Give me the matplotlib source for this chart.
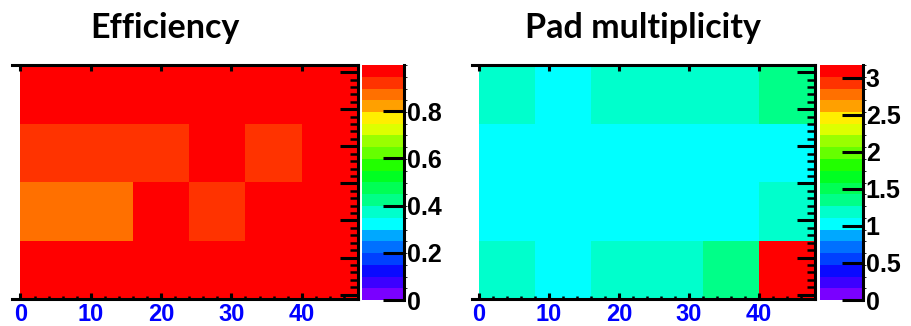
import matplotlib
matplotlib.use("Agg")
import matplotlib.pyplot as plt
import numpy as np
from matplotlib.colors import ListedColormap, BoundaryNorm

# bin edges (x: pad column, y: pad row)
x_edges = [0, 8, 16, 24, 32, 40, 48]
y_edges = [0, 8, 16, 24, 32]

# rows listed bottom -> top
efficiency = [
    [0.97, 0.97, 0.97, 0.97, 0.97, 0.97],
    [0.87, 0.87, 0.96, 0.92, 0.97, 0.97],
    [0.92, 0.92, 0.92, 0.96, 0.92, 0.97],
    [0.97, 0.98, 0.96, 0.97, 0.97, 0.995],
]
multiplicity = [
    [1.20, 1.03, 1.20, 1.20, 1.35, 3.17],
    [1.03, 1.03, 1.03, 1.03, 1.03, 1.20],
    [1.03, 1.03, 1.03, 1.03, 1.03, 1.03],
    [1.20, 1.03, 1.20, 1.20, 1.20, 1.35],
]

eff_ticks = [0, 0.2, 0.4, 0.6, 0.8]
eff_ticklabels = ["0", "0.2", "0.4", "0.6", "0.8"]
mult_ticks = [0, 0.5, 1, 1.5, 2, 2.5, 3]
mult_ticklabels = ["0", "0.5", "1", "1.5", "2", "2.5", "3"]
x_ticks = [0, 10, 20, 30, 40]

# ROOT-like 20 colour palette, bottom -> top
palette = ["#7a00ff", "#3c00ff", "#0a0aff", "#0040ff", "#0070ff",
           "#00a8ff", "#00ffff", "#00ffcc", "#00ff88", "#00ff55",
           "#00ff22", "#22ff00", "#66ff00", "#99ff00", "#ddff00",
           "#ffee00", "#ffa000", "#ff7000", "#ff3300", "#ff0000"]
cmap = ListedColormap(palette)

W, H = 911, 326
fig = plt.figure(figsize=(W / 100, H / 100), dpi=100)


def box(x0, y0, x1, y1):
    # pixel box (top-left origin) -> figure fraction
    return [x0 / W, 1 - y1 / H, (x1 - x0) / W, (y1 - y0) / H]


def panel(frame, cbox, data, ticks, ticklabels, title, title_x, xmin):
    ax = fig.add_axes(box(*frame))
    vmax = np.max(data)
    norm = BoundaryNorm(np.linspace(0, vmax, 21), cmap.N)
    mesh = ax.pcolormesh(x_edges, y_edges, np.array(data), cmap=cmap, norm=norm)
    ax.set_xlim(xmin, 48)
    ax.set_ylim(0, 32)
    ax.spines['left'].set_visible(False)
    for s in ['top', 'bottom', 'right']:
        ax.spines[s].set_linewidth(2.2)

    ax.set_xticks(x_ticks)
    ax.set_xticks(np.arange(0, 48, 2), minor=True)
    ax.tick_params(axis='x', which='major', direction='in', length=4, width=2.2,
                   top=True, labelsize=17, labelcolor='#0000ff', pad=3)
    ax.tick_params(axis='x', which='minor', direction='in', length=2, width=1.8,
                   top=False)
    for lab in ax.get_xticklabels():
        lab.set_fontweight('bold')
        lab.set_fontfamily('Liberation Sans')

    ax.yaxis.tick_right()
    ax.set_yticks(np.arange(0.6, 32, 5.07))
    ax.set_yticks(np.arange(0.6, 32, 1.014), minor=True)
    ax.tick_params(axis='y', which='major', direction='in', length=13, width=2.2,
                   labelright=False, left=False)
    ax.tick_params(axis='y', which='minor', direction='in', length=6, width=1.8,
                   left=False)

    cax = fig.add_axes(box(*cbox))
    cb = fig.colorbar(mesh, cax=cax)
    cb.outline.set_visible(False)
    cax.spines['right'].set_visible(True)
    cax.spines['right'].set_linewidth(2.2)
    cb.set_ticks(ticks)
    cb.set_ticklabels(ticklabels)
    cax.tick_params(direction='in', length=15, width=2.2, labelsize=18, pad=2)
    for lab in cax.get_yticklabels():
        lab.set_fontweight('bold')
        lab.set_fontfamily('Liberation Sans')

    fig.text(title_x / W, 1 - 38 / H, title, ha='center', va='baseline',
             fontsize=24.5, fontweight='bold', family=['Lato', 'DejaVu Sans'])


panel((12, 65, 358, 299), (362, 65, 404, 300), efficiency, eff_ticks,
      eff_ticklabels, "Efficiency", 165, -1.2)
panel((472, 65, 815, 299), (820, 65, 863, 300), multiplicity, mult_ticks,
      mult_ticklabels, "Pad multiplicity", 643, -1.0)

fig.savefig("out.png", dpi=100)
